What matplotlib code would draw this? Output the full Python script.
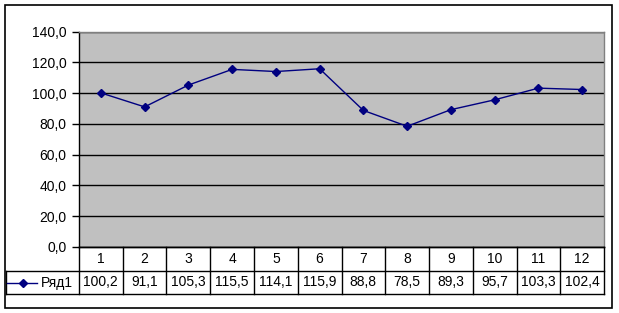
import matplotlib
matplotlib.use("Agg")
import matplotlib.pyplot as plt
from matplotlib.lines import Line2D
from matplotlib.patches import Rectangle
import matplotlib.transforms as mtransforms

categories = ["1", "2", "3", "4", "5", "6", "7", "8", "9", "10", "11", "12"]
values = [100.2, 91.1, 105.3, 115.5, 114.1, 115.9, 88.8, 78.5, 89.3, 95.7, 103.3, 102.4]
series_name = "Ряд1"
yticks = [0, 20, 40, 60, 80, 100, 120, 140]

W, H = 619, 313
plt.rcParams['font.family'] = ['Liberation Sans', 'DejaVu Sans']
FS = 10

fig = plt.figure(figsize=(W / 100, H / 100), dpi=100)

def fx(px):
    return px / W

def fy(py):
    return 1 - py / H

# plot area (pixel geometry)
L, R, T, B = 79, 604, 31.7, 247
ax = fig.add_axes([fx(L), fy(B), fx(R) - fx(L), fy(T) - fy(B)])
ax.set_facecolor('#C0C0C0')
ax.set_xlim(0.5, len(categories) + 0.5)
ax.set_ylim(0, 140)
ax.set_yticks(yticks)
ax.set_yticklabels([f"{v:.1f}".replace('.', ',') for v in yticks], fontsize=FS)
ax.tick_params(axis='y', length=5, width=1, color='black', pad=4)
ax.set_xticks([])
for v in yticks:
    ax.axhline(v, color='black', lw=1, zorder=1)
ax.spines['left'].set_color('black')
ax.spines['top'].set_color('#808080')
ax.spines['right'].set_color('#808080')
ax.spines['bottom'].set_color('black')
for s in ax.spines.values():
    s.set_linewidth(1)

xs = list(range(1, len(values) + 1))
ax.plot(xs, values, color='#000080', lw=1, marker='D', markersize=4,
        markerfacecolor='#000080', markeredgecolor='#000080', zorder=3)

# outer chart border
fig.patches.append(Rectangle((fx(5), fy(308)), fx(612) - fx(5), fy(5) - fy(308),
                             transform=fig.transFigure, fill=False,
                             edgecolor='black', lw=1.2))

# data table
r1, r2, r3 = 247, 271, 294
tleft = 6
def hline(y, x0, x1):
    fig.add_artist(Line2D([fx(x0), fx(x1)], [fy(y), fy(y)], transform=fig.transFigure,
                          color='black', lw=1))
def vline(x, y0, y1):
    fig.add_artist(Line2D([fx(x), fx(x)], [fy(y0), fy(y1)], transform=fig.transFigure,
                          color='black', lw=1))

hline(r1, L, R)
hline(r2, tleft, R)
hline(r3, tleft, R)
vline(tleft, r2, r3)
colw = (R - L) / len(categories)
for k in range(len(categories) + 1):
    vline(L + k * colw, r1, r3)

blend = mtransforms.blended_transform_factory(ax.transData, fig.transFigure)
for i, (c, v) in enumerate(zip(categories, values)):
    fig.text(xs[i], fy((r1 + r2) / 2), c, transform=blend, ha='center', va='center', fontsize=FS)
    fig.text(xs[i], fy((r2 + r3) / 2), f"{v:.1f}".replace('.', ','), transform=blend,
             ha='center', va='center', fontsize=FS)

# legend key in table
ym = (r2 + r3) / 2
fig.add_artist(Line2D([fx(7), fx(37)], [fy(ym), fy(ym)], transform=fig.transFigure,
                      color='#000080', lw=1))
fig.add_artist(Line2D([fx(23)], [fy(ym)], transform=fig.transFigure, color='#000080',
                      marker='D', markersize=4, markerfacecolor='#000080'))
fig.text(fx(41), fy(ym), series_name, ha='left', va='center', fontsize=FS)

fig.savefig('out.png', dpi=100)
